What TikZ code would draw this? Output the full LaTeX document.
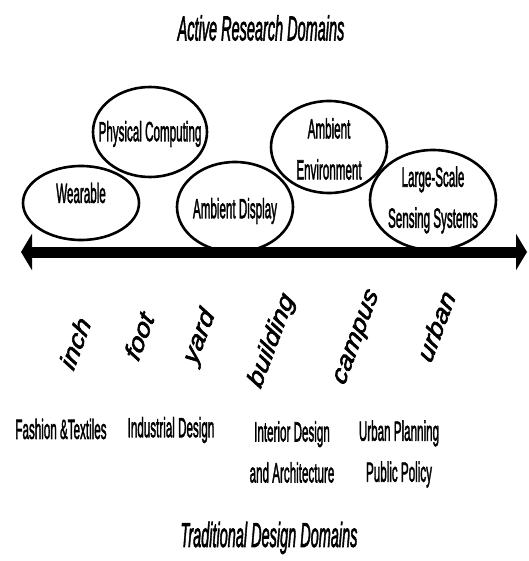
\documentclass[tikz,border=0pt]{standalone}
\usepackage{fontspec}
\setmainfont[FakeBold=2.5]{Liberation Sans}
\usetikzlibrary{arrows.meta, shapes.geometric}
\tikzset{
  oval/.style={ellipse,draw,line width=2.6pt,inner sep=0pt},
  txt/.style={font=\fontsize{27.7}{41}\selectfont,align=center,xscale=0.42,inner sep=0pt},
  head/.style={font=\fontsize{34.5}{40}\selectfont\itshape,xscale=0.42,inner sep=0pt},
  unit/.style={font=\fontsize{29}{34}\selectfont\itshape,xscale=0.8,rotate=65,inner sep=0pt},
  line/.style={{Triangle[length=11pt,width=36pt]}-{Triangle[length=11pt,width=36pt]},line width=11pt}
}

\begin{document}
\begin{tikzpicture}[x=1pt,y=-1pt]
\useasboundingbox (0,0) rectangle (528,561);
\node[head] (top) at (261,28) {Active Research Domains};
\node[oval, minimum width=116, minimum height=74] (wear) at (81,203) {};
\node[oval, minimum width=114, minimum height=90] (phys) at (150,132) {};
\node[oval, minimum width=116, minimum height=90] (disp) at (235,207) {};
\node[oval, minimum width=116, minimum height=92] (env) at (329,147) {};
\node[oval, minimum width=126, minimum height=100] (sens) at (433,200) {};
\node[txt] (wear-t) at ([yshift=10]wear.center) {Wearable};
\node[txt] (phys-t) at ([yshift=-2]phys.center) {Physical Computing};
\node[txt] (disp-t) at ([yshift=-4]disp.center) {Ambient Display};
\node[txt] (env-t) at ([yshift=-2]env.center) {Ambient\\Environment};
\node[txt] (sens-t) at (sens.center) {Large-Scale\\Sensing Systems};
\coordinate (west) at (21,252);
\coordinate (east) at (527,252);
\draw[line] (west) -- (east);
\node[unit] (inch) at (75,343) {inch};
\node[unit] (foot) at (139,336) {foot};
\node[unit] (yard) at (200,337) {yard};
\node[unit] (bldg) at (272,341) {building};
\node[unit] (camp) at (358,338) {campus};
\node[unit] (urban) at (436,326) {urban};
\node[txt] (fash) at (61,429) {Fashion \&Textiles};
\node[txt] (ind) at (171,430) {Industrial Design};
\node[txt] (inter) at (292,452) {Interior Design\\and Architecture};
\node[txt] (plan) at (399,454) {Urban Planning\\Public Policy};
\node[head] (trad) at (269,538) {Traditional Design Domains};
\end{tikzpicture}
\end{document}
